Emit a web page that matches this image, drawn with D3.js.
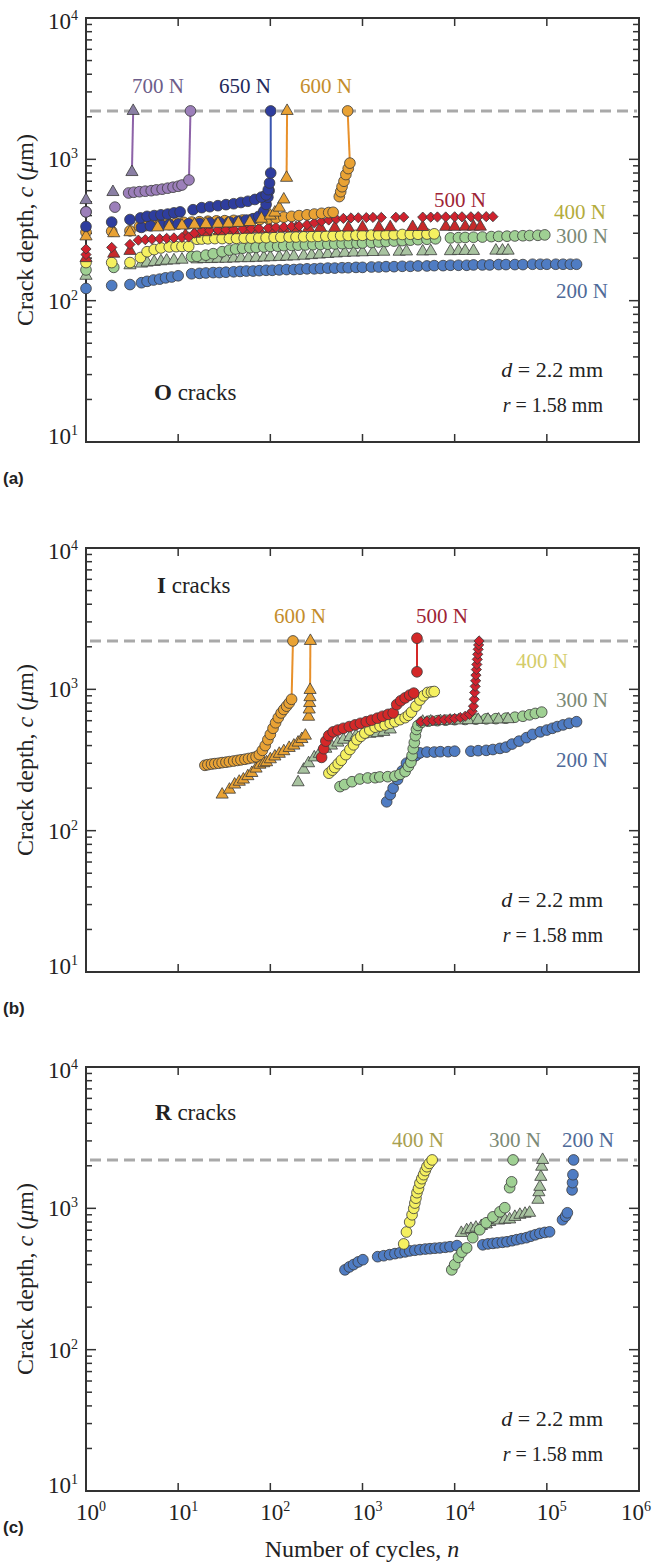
<!DOCTYPE html>
<html>
<head>
<meta charset="utf-8">
<script src="https://cdn.jsdelivr.net/npm/d3@7"></script>
<style>
    body { margin: 0; background: #fff; }
    svg text { font-family: "Liberation Serif", "Times New Roman", serif; }
</style>
</head>
<body>
<div id="container"></div>
<script>
// ---- data: [number of cycles n, crack depth c (um)] ----

// (a) O cracks
var o200c = [[1,122],[1.9,128],[3,130],[4,134],[4.6,137],[5.4,140],[6.3,142],[7.3,145],[8.5,147],[10,150],[14,155],[17,156],[20,157],[24,158],[28,158],[33,159],[40,160],[47,161],[55,162],[65,162],[76,163],[90,164],[105,164],[125,165],[150,166],[180,166],[210,167],[250,168],[300,168],[350,169],[420,170],[500,170],[600,171],[700,171],[850,172],[1000,172],[1250,173],[1500,173],[1800,174],[2200,174],[2700,175],[3300,175],[4000,176],[5000,176],[6000,177],[7500,177],[9000,178],[11000,178],[13500,178],[16000,179],[20000,179],[24000,179],[30000,180],[36000,180],[45000,180],[55000,180],[70000,181],[85000,181],[100000,181],[125000,181],[150000,181],[180000,181],[210000,181]];
var o300c = [[1,165],[2,172],[14,205],[16,206],[20,210],[24,215],[30,222],[36,228],[42,232],[50,235],[60,237],[70,238],[85,240],[100,242],[120,243],[140,245],[170,246],[200,247],[240,248],[290,249],[350,250],[420,251],[500,252],[600,253],[720,254],[870,255],[1000,256],[1250,258],[1500,260],[1800,262],[2200,264],[2700,266],[3300,268],[4000,270],[5000,272],[6200,274],[9000,278],[11000,279],[13000,280],[16000,281],[20000,282],[25000,284],[30000,285],[37000,286],[45000,287],[55000,288],[65000,289],[80000,290],[95000,292]];
var o300t = [[1,150],[3,178],[4,183],[4.6,186],[5.5,188],[6.5,190],[7.5,192],[9,193],[11,195],[16,196],[19,197],[23,197],[27,198],[33,198],[40,199],[48,200],[58,200],[70,201],[85,202],[100,203],[125,204],[150,205],[180,206],[230,208],[280,210],[340,212],[420,214],[520,216],[640,218],[800,219],[1000,220],[1300,221],[1700,222],[2500,222],[3000,223],[4500,223],[5500,224],[9000,224],[11000,225],[13000,225],[16000,225],[28000,226],[33000,226],[38000,226]];
var o400c = [[1,186],[1.9,186],[3,186],[3.9,202],[4.6,222],[5.5,230],[6.5,236],[8,240],[9.5,241],[11,242],[13,242],[16,272],[18,273],[21,274],[25,275],[30,275],[36,276],[43,276],[52,277],[62,277],[75,278],[90,279],[110,280],[130,281],[160,282],[190,282],[230,283],[280,284],[330,285],[400,286],[480,287],[580,288],[700,289],[850,290],[1000,290],[1250,291],[1500,292],[1800,293],[2200,293],[2700,294],[3300,295],[4000,295],[5000,296],[6000,297]];
var o500t = [[1,200],[2,215],[3,225],[12,290],[15,298],[20,305],[28,310],[40,315],[55,318],[75,320],[100,322],[140,324],[190,326],[260,327],[350,328],[500,328],[700,329],[1000,330],[1500,330],[2000,331],[3500,332],[4500,332],[8000,333],[10000,333],[13000,334],[16000,334],[19000,334]];
var o500d = [[1,212],[1,232],[1.9,238],[3,250],[3.7,268],[4.4,270],[5.2,272],[6.3,274],[7.5,276],[9,278],[11,280],[13,282],[15,300],[18,312],[22,315],[27,317],[33,318],[40,320],[50,322],[62,324],[75,325],[95,327],[115,330],[140,332],[170,335],[205,338],[250,345],[300,355],[360,365],[430,372],[520,378],[620,382],[750,385],[900,386],[1100,387],[1300,388],[1600,388],[2300,389],[2800,390],[4500,390],[5500,390],[6500,391],[8000,391],[10000,392],[12000,392],[15000,392],[18000,393],[22000,393],[26000,393]];
var o600c = [[1,305],[1.9,310],[3,312],[3.8,335],[4.5,340],[5.4,345],[6.4,350],[7.8,352],[9.5,355],[11.5,358],[14,360],[17,362],[21,365],[26,367],[32,368],[40,370],[50,372],[62,374],[77,376],[95,380],[115,385],[140,390],[170,395],[205,400],[250,405],[300,410],[360,415],[430,420],[480,422],[560,545],[580,590],[600,640],[630,700],[660,780],[700,860],[730,940],[690,2200]];
var o600t = [[1,285],[2,300],[3,305],[6,330],[8,335],[11,340],[15,345],[20,348],[27,350],[35,352],[45,355],[60,360],[80,380],[100,400],[112,420],[125,455],[140,520],[150,740],[152,2200]];
var o650c2 = [[4,330],[5,338],[6.5,342],[8,345],[10,348],[13,350],[17,352],[22,355],[28,358],[36,360],[45,365],[55,372],[65,380],[75,395],[85,430],[90,480],[94,540],[97,600]];
var o650c = [[1,335],[1,425],[1.9,360],[3,375],[3.9,385],[4.6,395],[5.5,400],[6.5,405],[7.7,410],[9,418],[10.5,425],[14.5,440],[18,455],[22,462],[27,470],[33,478],[40,485],[48,495],[57,505],[68,520],[80,540],[90,560],[95,610],[98,680],[101,800],[101,2200]];
var o700t = [[1,515],[1.96,587],[3.15,813],[3.25,2200]];
var o700c = [[1,425],[2.06,459],[2.9,578],[3.3,585],[3.8,590],[4.4,595],[5.1,600],[5.8,608],[6.7,615],[7.7,625],[8.8,635],[10,645],[11,658],[13.1,714],[13.6,2200]];

// (b) I cracks
var i200c = [[1830,160],[2000,180],[2150,200],[2400,230],[2700,265],[3000,300],[3400,320],[3800,340],[4200,355],[5000,360],[6000,360],[7000,362],[8500,362],[10000,365],[15000,365],[18000,368],[22000,370],[26000,375],[31000,382],[36000,390],[42000,410],[50000,430],[60000,455],[70000,480],[85000,500],[100000,515],[115000,530],[130000,545],[150000,560],[175000,575],[210000,590]];
var i300c = [[570,205],[640,212],[770,222],[935,232],[1140,236],[1370,237],[1540,240],[1880,241],[2250,243],[2550,250],[2900,262],[3150,285],[3350,305],[3450,340],[3550,380],[3650,420],[3750,470],[3850,520],[4000,555],[4400,585],[5200,595],[6500,600],[8000,605],[10000,610],[13000,612],[17000,615],[22000,618],[28000,620],[36000,625],[45000,635],[55000,645],[65000,660],[75000,675],[88000,690]];
var i300t = [[200,220],[230,270],[260,300],[300,330],[340,350],[400,380],[460,400],[540,420],[620,440],[730,460],[850,470],[1000,480],[1200,485],[1450,490],[1700,500],[2000,520],[4500,590],[5500,592],[7000,596],[9000,600],[11000,603],[14000,605],[18000,608],[23000,610],[30000,612],[38000,615]];
var i400c = [[432,255],[470,268],[500,280],[545,298],[590,315],[660,345],[730,375],[800,405],[870,440],[960,465],[1060,490],[1200,515],[1370,540],[1550,550],[1760,560],[2000,575],[2250,590],[2550,610],[2900,630],[3150,655],[3400,690],[3800,760],[4200,840],[4600,900],[5100,950],[5600,960],[6000,965]];
var i500c = [[360,330],[380,380],[400,430],[430,470],[480,500],[540,515],[620,530],[720,545],[830,560],[950,575],[1100,590],[1250,605],[1450,625],[1650,645],[1900,665],[2150,680],[2350,780],[2600,830],[2900,870],[3250,910],[3600,940],[3900,1330],[3900,2300]];
var i500d = [[4300,590],[5000,595],[5800,600],[6700,605],[7700,610],[8800,615],[10000,622],[11500,632],[13000,645],[14500,665],[15500,700],[16000,760],[16300,850],[16500,950],[16700,1050],[16900,1150],[17000,1260],[17200,1380],[17400,1500],[17600,1630],[17800,1770],[18000,1920],[18200,2060],[18400,2200]];
var i600t = [[30,180],[36,195],[41,212],[46,222],[51,230],[57,243],[63,256],[70,275],[77,293],[85,300],[91,305],[100,320],[112,335],[125,350],[140,365],[160,385],[180,400],[200,420],[220,445],[240,470],[260,640],[264,720],[267,800],[269,880],[270,990],[272,2200]];
var i600c = [[19.5,290],[21,293],[23,296],[25,298],[27.5,300],[30,303],[33,305],[36,308],[40,311],[44,314],[48,317],[53,320],[58,324],[64,328],[70,333],[76,345],[82,370],[88,400],[94,440],[100,480],[107,530],[114,580],[122,630],[131,680],[140,720],[150,760],[160,800],[170,850],[176,2200]];

// (c) R cracks
var r200c = [[645,367],[720,385],[800,400],[900,418],[1010,433],[1460,455],[1700,462],[1970,470],[2250,478],[2550,485],[2900,492],[3250,500],[3700,505],[4200,510],[4800,515],[5400,518],[6100,522],[6900,525],[7900,530],[8900,535],[10600,545],[20200,552],[23000,560],[26000,565],[29000,570],[33000,575],[37000,580],[42000,590],[47000,600],[53000,610],[60000,620],[67000,635],[75000,650],[84000,665],[95000,675],[107000,682],[148000,830],[160000,880],[167000,930],[188000,1350],[190000,1520],[192000,1730],[195000,2200]];
var r300t = [[11800,670],[13500,700],[15000,715],[17000,730],[19500,750],[22000,770],[24000,800],[26000,830],[30000,820],[35000,830],[39500,835],[45000,870],[51000,900],[58000,915],[65000,930],[80000,1150],[82000,1300],[84000,1420],[86000,1670],[88000,1970],[90000,2200]];
var r300c = [[9300,367],[10000,400],[11000,450],[12000,490],[13500,525],[15700,620],[18700,705],[22000,790],[26000,870],[31000,945],[35000,1010],[39500,1400],[41500,1540],[43000,2200]];
var r400c = [[2800,560],[3000,680],[3250,800],[3450,900],[3600,1000],[3700,1090],[3800,1180],[3900,1290],[4050,1380],[4200,1510],[4400,1620],[4600,1730],[4800,1850],[5000,1970],[5300,2080],[5700,2200]];

// axis values
var xDecades = [1, 10, 100, 1000, 10000, 100000, 1000000];
var xExponents = ["0", "1", "2", "3", "4", "5", "6"];
var yDecades = [10, 100, 1000, 10000];
var yExponents = ["1", "2", "3", "4"];
var criticalDepth = 2200; // d = 2.2 mm

// ---- layout ----
var plotLeft = 86, plotRight = 639, panelHeight = 424;
var panelTops = [18, 548, 1067];
var serif = "'Liberation Serif', 'Times New Roman', serif";

// marker styles per load
var styles = {
    blue:     { shape: "circle",   fill: "#4f7cc3", line: "#4f7cc3" },
    green:    { shape: "circle",   fill: "#9fd093", line: "#8ab57e" },
    greenTri: { shape: "triangle", fill: "#a8c3a0", line: "#8ab57e" },
    yellow:   { shape: "circle",   fill: "#f5f060", line: "#d8d040" },
    redTri:   { shape: "triangle", fill: "#c62a2a", line: "#c62a2a" },
    redDia:   { shape: "diamond",  fill: "#d0222e", line: "#d0222e" },
    red:      { shape: "circle",   fill: "#d42828", line: "#d42828" },
    orange:   { shape: "circle",   fill: "#e9a234", line: "#e8902a" },
    orangeTri:{ shape: "triangle", fill: "#e9a234", line: "#e8902a" },
    navy:     { shape: "circle",   fill: "#2e3d9e", line: "#3a56b0" },
    purple:   { shape: "circle",   fill: "#9c7fba", line: "#8d62a8" },
    purpleTri:{ shape: "triangle", fill: "#8a7fa4", line: "#8d62a8" }
};

var panels = [
    {
        series: [[o200c, "blue"], [o300t, "greenTri"], [o300c, "green"], [o400c, "yellow"], [o500t, "redTri"],
                 [o500d, "redDia"], [o600c, "orange", true], [o650c2, "navy"], [o600t, "orangeTri", true],
                 [o650c, "navy", true], [o700c, "purple", true], [o700t, "purpleTri", true]],
        crack: "O", letter: "(a)", crackPos: [68, 382],
        labels: [["700 N", 72, 75, "#6d5d8a"], ["650 N", 159, 75, "#23295a"], ["600 N", 240, 75, "#c48d2c"],
                 ["500 N", 374, 189, "#9e2435"], ["400 N", 494, 201, "#b4ac3c"], ["300 N", 496, 225, "#7c8a76"],
                 ["200 N", 496, 280, "#4f6a98"]]
    },
    {
        series: [[i200c, "blue"], [i300c, "green"], [i300t, "greenTri"], [i400c, "yellow"], [i500c, "red", true],
                 [i500d, "redDia"], [i600t, "orangeTri", true], [i600c, "orange", true]],
        crack: "I", letter: "(b)", crackPos: [71, 45],
        labels: [["600 N", 214, 75, "#c48d2c"], ["500 N", 356, 75, "#9e2435"], ["400 N", 456, 120, "#d4cc6a"],
                 ["300 N", 496, 159, "#7c8a76"], ["200 N", 496, 219, "#4f6a98"]]
    },
    {
        series: [[r200c, "blue"], [r300t, "greenTri"], [r300c, "green"], [r400c, "yellow"]],
        crack: "R", letter: "(c)", crackPos: [69, 53],
        labels: [["400 N", 332, 80, "#a8a050"], ["300 N", 429, 80, "#7c8a76"], ["200 N", 502, 80, "#4f6a98"]]
    }
];

var svg = d3.select("div#container")
    .append("svg")
    .attr("width", 652)
    .attr("height", 1566);

var x = d3.scaleLog().domain([1, 1e6]).range([plotLeft, plotRight]);

var symbolTypes = { circle: d3.symbolCircle, triangle: d3.symbolTriangle, diamond: d3.symbolSquare };
var symbolSizes = { circle: 90, triangle: 64, diamond: 52 };

function supText(sel, base, exp, size) {
    sel.append("tspan").text(base);
    sel.append("tspan").attr("dy", -9).style("font-size", size + "px").text(exp);
}

panels.forEach(function (p, pi) {
    var top = panelTops[pi];
    var bottom = top + panelHeight;
    var y = d3.scaleLog().domain([10, 1e4]).range([bottom, top]);
    var g = svg.append("g").style("font-family", serif);

    // dashed critical depth line
    g.append("line")
        .attr("x1", plotLeft + 4).attr("x2", plotRight - 2)
        .attr("y1", y(criticalDepth)).attr("y2", y(criticalDepth))
        .attr("stroke", "#a9a9a9").attr("stroke-width", 3)
        .attr("stroke-dasharray", "11,6");

    // frame
    g.append("rect")
        .attr("x", plotLeft).attr("y", top)
        .attr("width", plotRight - plotLeft).attr("height", panelHeight)
        .attr("fill", "none").attr("stroke", "#333").attr("stroke-width", 2);

    // x ticks (inside, top and bottom)
    xDecades.slice(1, -1).forEach(function (v) {
        g.append("line").attr("x1", x(v)).attr("x2", x(v)).attr("y1", bottom).attr("y2", bottom - 8)
            .attr("stroke", "#333").attr("stroke-width", 1.5);
        g.append("line").attr("x1", x(v)).attr("x2", x(v)).attr("y1", top).attr("y2", top + 8)
            .attr("stroke", "#333").attr("stroke-width", 1.5);
    });

    // y ticks, major + minor, left and right
    yDecades.forEach(function (v, i) {
        var ticks = [[v, 10]];
        if (i < yDecades.length - 1) {
            for (var k = 2; k <= 9; k++) ticks.push([v * k, 6]);
        }
        ticks.forEach(function (t) {
            g.append("line").attr("x1", plotLeft).attr("x2", plotLeft + t[1]).attr("y1", y(t[0])).attr("y2", y(t[0]))
                .attr("stroke", "#333").attr("stroke-width", 1.5);
            g.append("line").attr("x1", plotRight).attr("x2", plotRight - t[1]).attr("y1", y(t[0])).attr("y2", y(t[0]))
                .attr("stroke", "#333").attr("stroke-width", 1.5);
        });
    });

    // y tick labels
    var yOffsets = [2, 8, 8, 11];
    yDecades.forEach(function (v, i) {
        var t = g.append("text")
            .attr("x", plotLeft - 8).attr("y", y(v) + yOffsets[i])
            .attr("text-anchor", "end")
            .style("font-size", "23px").attr("fill", "#222");
        supText(t, "10", yExponents[i], 14);
    });

    // y axis title
    var yl = g.append("text")
        .attr("transform", "translate(33," + (top + panelHeight / 2) + ") rotate(-90)")
        .attr("text-anchor", "middle")
        .style("font-size", "24px").attr("fill", "#222");
    yl.append("tspan").text("Crack depth, ");
    yl.append("tspan").style("font-style", "italic").text("c");
    yl.append("tspan").text(" (");
    yl.append("tspan").style("font-style", "italic").text("\u03bc");
    yl.append("tspan").text("m)");

    // failure connectors: last two points of a failed specimen
    p.series.forEach(function (s) {
        if (!s[2]) return;
        var d = s[0], st = styles[s[1]];
        var a = d[d.length - 2], b = d[d.length - 1];
        g.append("line")
            .attr("x1", x(a[0])).attr("y1", y(a[1]))
            .attr("x2", x(b[0])).attr("y2", y(b[1]))
            .attr("stroke", st.line).attr("stroke-width", 2);
    });

    // markers
    p.series.forEach(function (s) {
        var st = styles[s[1]];
        var sym = d3.symbol().type(symbolTypes[st.shape]).size(symbolSizes[st.shape]);
        g.selectAll(null)
            .data(s[0])
            .enter()
            .append("path")
            .attr("d", sym)
            .attr("transform", function (d) {
                return "translate(" + x(d[0]) + "," + y(d[1]) + ")" + (st.shape == "diamond" ? " rotate(45)" : "");
            })
            .attr("fill", st.fill)
            .attr("stroke", "#3a3a3a")
            .attr("stroke-width", 0.8);
    });

    // load labels
    p.labels.forEach(function (l) {
        g.append("text")
            .attr("x", plotLeft + l[1]).attr("y", top + l[2])
            .attr("text-anchor", "middle")
            .style("font-family", serif)
            .style("font-size", "21px")
            .attr("fill", l[3])
            .text(l[0]);
    });

    // crack type
    var ct = g.append("text")
        .attr("x", plotLeft + p.crackPos[0]).attr("y", top + p.crackPos[1])
        .style("font-family", serif)
        .style("font-size", "23px").attr("fill", "#222");
    ct.append("tspan").style("font-weight", "bold").text(p.crack);
    ct.append("tspan").text(" cracks");

    // geometry annotation
    var d1 = g.append("text").attr("x", plotLeft + 517).attr("y", top + 359)
        .attr("text-anchor", "end").style("font-family", serif).style("font-size", "22px").attr("fill", "#222");
    d1.append("tspan").style("font-style", "italic").text("d");
    d1.append("tspan").text(" = 2.2 mm");
    var r1 = g.append("text").attr("x", plotLeft + 517).attr("y", top + 394)
        .attr("text-anchor", "end").style("font-family", serif).style("font-size", "20px").attr("fill", "#222");
    r1.append("tspan").style("font-style", "italic").text("r");
    r1.append("tspan").text(" = 1.58 mm");

    // panel letter
    g.append("text")
        .attr("x", 3).attr("y", bottom + 42)
        .style("font-family", "'Liberation Sans', Arial, sans-serif")
        .style("font-weight", "bold").style("font-size", "17px")
        .attr("fill", "#222")
        .text(p.letter);

    // x tick labels only on the bottom panel
    if (pi == panels.length - 1) {
        xDecades.forEach(function (v, i) {
            var last = i == xDecades.length - 1;
            var t = g.append("text")
                .attr("x", last ? 651 : x(v) + 5).attr("y", bottom + 29)
                .attr("text-anchor", last ? "end" : "middle")
                .style("font-size", "23px").attr("fill", "#222");
            supText(t, "10", xExponents[i], 14);
        });
        var xl = g.append("text")
            .attr("x", 362).attr("y", bottom + 66)
            .attr("text-anchor", "middle")
            .style("font-size", "24px").attr("fill", "#222");
        xl.append("tspan").text("Number of cycles, ");
        xl.append("tspan").style("font-style", "italic").text("n");
    }
});
</script>
</body>
</html>
